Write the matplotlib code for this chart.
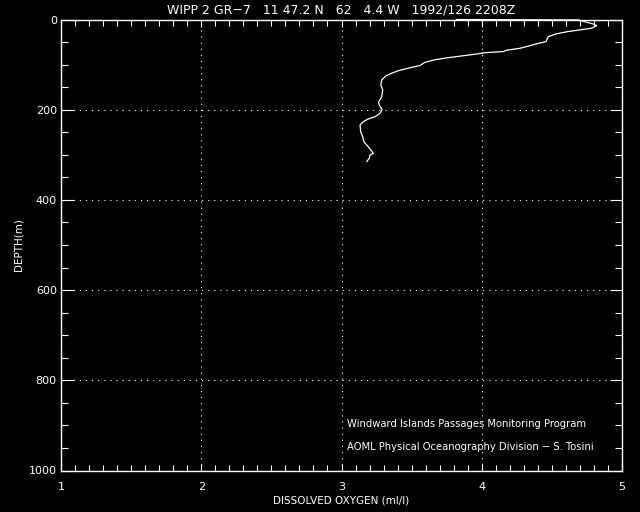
import matplotlib
matplotlib.use("Agg")
import matplotlib.pyplot as plt
from matplotlib.ticker import MultipleLocator

plt.rcParams['lines.scale_dashes'] = False
plt.rcParams['font.family'] = ['DejaVu Sans']

# Dissolved oxygen profile (ml/l) vs depth (m)
oxygen = [3.82, 4.69, 4.76, 4.795, 4.82, 4.78, 4.70, 4.61, 4.53, 4.475, 4.458,
          4.39, 4.296, 4.27, 4.178, 4.154, 4.023, 3.964, 3.89, 3.75, 3.655,
          3.595, 3.56, 3.49, 3.405, 3.358, 3.317, 3.287, 3.28, 3.294, 3.287,
          3.263, 3.27, 3.28, 3.29, 3.275, 3.24, 3.19, 3.155, 3.132, 3.137,
          3.151, 3.16, 3.19, 3.208, 3.227, 3.203, 3.198, 3.18]
depth = [0, 1, 7, 10, 13.7, 19.6, 23, 27, 32, 38, 49,
         54, 62, 64, 68, 71, 73.6, 76.5, 79.5, 85, 90,
         95, 102, 107, 113.5, 119, 125, 134, 145, 156, 171,
         184, 190, 195, 199, 208, 215.5, 220.6, 226.6, 234, 248.8,
         260, 271, 282, 289, 296.7, 300.4, 307.8, 315]

x_ticks = [1, 2, 3, 4, 5]
y_ticks = [0, 200, 400, 600, 800, 1000]

title = "WIPP 2 GR\u22127   11 47.2 N   62   4.4 W   1992/126 2208Z"
xlabel = "DISSOLVED OXYGEN (ml/l)"
ylabel = "DEPTH(m)"
note1 = "Windward Islands Passages Monitoring Program"
note2 = "AOML Physical Oceanography Division \u2212 S. Tosini"

fig = plt.figure(figsize=(6.4, 5.12), dpi=100, facecolor='black')
ax = fig.add_axes([61/640, 1 - 470.5/512, 561/640, 451/512])
ax.set_facecolor('black')

ax.plot(oxygen, depth, color='white', lw=0.9, clip_on=False)

ax.set_xlim(1, 5)
ax.set_ylim(1000, 0)
ax.set_xticks(x_ticks)
ax.set_yticks(y_ticks)
ax.xaxis.set_minor_locator(MultipleLocator(0.1))
ax.yaxis.set_minor_locator(MultipleLocator(50))

ax.tick_params(axis='both', which='both', direction='in', colors='white',
               labelcolor='white', labelsize=8, width=0.8)
ax.tick_params(axis='x', which='both', top=True, bottom=True, pad=8)
ax.tick_params(axis='y', which='both', left=True, right=True, pad=3)
ax.tick_params(axis='x', which='major', length=5)
ax.tick_params(axis='x', which='minor', length=4.5)
ax.tick_params(axis='y', which='major', length=9)
ax.tick_params(axis='y', which='minor', length=5)

for s in ax.spines.values():
    s.set_color('white')
    s.set_linewidth(1.0)

for xv in x_ticks[1:-1]:
    ax.axvline(xv, color='white', lw=0.8, linestyle=(0, (0.8, 3.6)))
for yv in y_ticks[1:-1]:
    ax.axhline(yv, color='white', lw=0.8, linestyle=(0, (0.8, 3.6)))

ax.set_title(title, color='white', fontsize=9, pad=4)
ax.set_xlabel(xlabel, color='white', fontsize=7.5, labelpad=3)
ax.set_ylabel(ylabel, color='white', fontsize=7.5, labelpad=4)

ax.text(0.51, 0.103, note1, transform=ax.transAxes, color='white',
        fontsize=7.2, va='center', ha='left')
ax.text(0.51, 0.053, note2, transform=ax.transAxes, color='white',
        fontsize=7.2, va='center', ha='left')

fig.savefig('out.png', dpi=100, facecolor='black')
